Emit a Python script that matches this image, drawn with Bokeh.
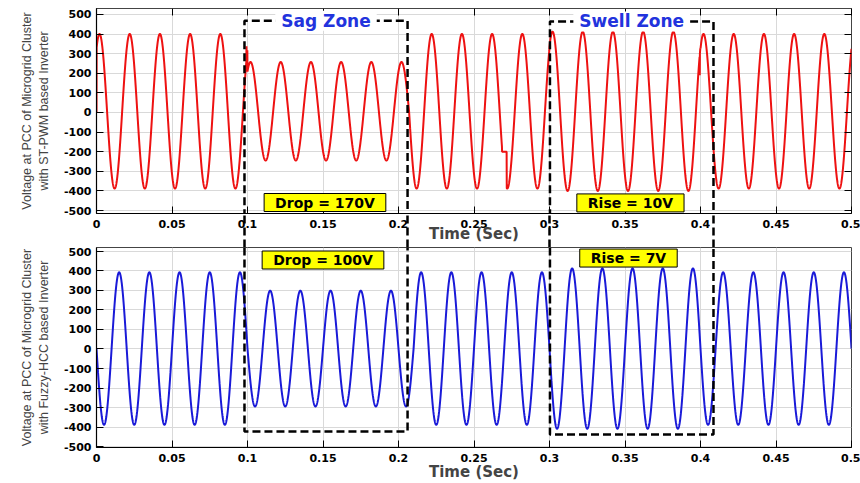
import numpy as np
from bokeh.plotting import figure
from bokeh.layouts import column
from bokeh.models import Range1d, FixedTicker, Label, PolyAnnotation, LinearAxis
from bokeh.embed import file_html
from bokeh.resources import INLINE

# ---------------- data ----------------
FREQ_HZ = 50.0
x_ticks = [0.0, 0.05, 0.1, 0.15, 0.2, 0.25, 0.3, 0.35, 0.4, 0.45, 0.5]
x_tick_labels = ["0", "0.05", "0.1", "0.15", "0.2", "0.25", "0.3", "0.35", "0.4", "0.45", "0.5"]
y_ticks = [-500, -400, -300, -200, -100, 0, 100, 200, 300, 400, 500]
y_tick_labels = ["-500", "-400", "-300", "-200", "-100", "0", "100", "200", "300", "400", "500"]

# top panel: ST-PWM based inverter (segments: normal, sag, normal, swell, normal)
top_seg_edges = [0.0, 0.1, 0.207, 0.3, 0.4, 0.5]
top_seg_amp = [394, 251, 394, 406, 394]
top_offset = 6
top_first_peak = 0.002
top_start_value = 0
top_spike_t = [0.0993, 0.3995]
top_spike_v = [338, 190]
top_hold_start = [0.2686]
top_hold_end = [0.2716]
top_hold_v = [-200]

# bottom panel: Fuzzy-HCC based inverter
bot_seg_edges = [0.0, 0.1, 0.21, 0.3, 0.4, 0.5]
bot_seg_amp = [390, 296, 390, 410, 390]
bot_offset = 2
bot_first_peak = 0.015

# zone boxes (time extents) and annotation texts
sag_t = [0.098, 0.206]
swell_t = [0.3003, 0.4086]
zone_names = ["Sag Zone", "Swell Zone"]
top_notes = ["Drop = 170V", "Rise = 10V"]
bot_notes = ["Drop = 100V", "Rise = 7V"]

# ---------------- build waveforms ----------------
t = np.arange(0.0, 0.5 + 1e-9, 0.0001)


def wave(edges, amps, offset, first_peak):
    a = np.zeros_like(t)
    for i in range(len(amps)):
        m = (t >= edges[i]) & (t <= edges[i + 1])
        a[m] = amps[i]
    return a * np.cos(2 * np.pi * FREQ_HZ * (t - first_peak)) + offset


v_top = wave(top_seg_edges, top_seg_amp, top_offset, top_first_peak)
v_top[0] = top_start_value
for ts, vs in zip(top_spike_t, top_spike_v):
    v_top[np.argmin(np.abs(t - ts))] = vs
for a0, a1, hv in zip(top_hold_start, top_hold_end, top_hold_v):
    v_top[(t >= a0) & (t <= a1)] = hv

v_bot = wave(bot_seg_edges, bot_seg_amp, bot_offset, bot_first_peak)

TICK_FONT = "DejaVu Sans"
LABEL_FONT = "Liberation Sans"
GAP_PX = 34


def make_fig(height, y_range, mb_top, mb_bottom, ylabel, tick_standoff, lab_standoff,
             minor=None):
    p = figure(width=860, height=height, x_range=Range1d(0, 0.5),
               y_range=Range1d(*y_range), output_backend="svg",
               toolbar_location=None, min_border_left=96, min_border_right=9,
               min_border_top=mb_top, min_border_bottom=mb_bottom)
    p.background_fill_color = "white"
    p.border_fill_color = "white"
    p.outline_line_color = "#444444"
    p.outline_line_width = 1
    p.xaxis.ticker = FixedTicker(ticks=x_ticks, minor_ticks=minor or [])
    p.xaxis.major_label_overrides = dict(zip(x_ticks, x_tick_labels))
    p.yaxis.ticker = FixedTicker(ticks=y_ticks)
    p.yaxis.major_label_overrides = dict(zip(y_ticks, y_tick_labels))
    for ax in (p.xaxis[0], p.yaxis[0]):
        ax.major_tick_in = 7
        ax.major_tick_out = 0
        ax.minor_tick_in = 0
        ax.minor_tick_out = 0
        ax.minor_tick_line_color = None
        ax.axis_line_color = "black"
        ax.axis_line_width = 1.2
        ax.major_tick_line_color = "black"
        ax.major_label_text_font = TICK_FONT
        ax.major_label_text_font_style = "bold"
        ax.major_label_text_font_size = "11px"
        ax.major_label_text_color = "black"
    if minor:
        # dashed zone-box edges continuing through the gap below the panel
        xa = p.xaxis[0]
        xa.minor_tick_out = GAP_PX
        xa.minor_tick_line_color = "black"
        xa.minor_tick_line_width = 2.5
        xa.minor_tick_line_dash = "8 4"
        xa.major_label_standoff = tick_standoff - GAP_PX
    else:
        p.xaxis.major_label_standoff = tick_standoff
    p.yaxis.major_label_standoff = 5
    p.xaxis.axis_label = "Time (Sec)"
    p.xaxis.axis_label_text_font = TICK_FONT
    p.xaxis.axis_label_text_font_style = "bold"
    p.xaxis.axis_label_text_font_size = "15px"
    p.xaxis.axis_label_standoff = lab_standoff
    p.yaxis.axis_label = ylabel
    p.yaxis.axis_label_text_font = LABEL_FONT
    p.yaxis.axis_label_text_font_style = "normal"
    p.yaxis.axis_label_text_font_size = "12.5px"
    p.yaxis.axis_label_standoff = 10
    p.grid.grid_line_color = "#d9d9d9"
    p.grid.grid_line_width = 1
    return p


def mirror_ticks(p):
    ra = LinearAxis(ticker=FixedTicker(ticks=y_ticks), major_tick_in=7, major_tick_out=0,
                    minor_tick_line_color=None, axis_line_color=None,
                    major_label_text_font_size="1px", major_label_text_alpha=0,
                    major_label_standoff=0, major_tick_line_color="black")
    ta = LinearAxis(ticker=FixedTicker(ticks=x_ticks), major_tick_in=7, major_tick_out=0,
                    minor_tick_line_color=None, axis_line_color=None,
                    major_label_text_font_size="1px", major_label_text_alpha=0,
                    major_label_standoff=0, major_tick_line_color="black")
    p.add_layout(ra, "right")
    p.add_layout(ta, "above")


TOP_YR = (-515, 530)
top = make_fig(247, TOP_YR, 8, 34,
               "Voltage at PCC of Microgrid Cluster\nwith ST-PWM based Inverter", 6, -6,
               minor=sag_t + swell_t)
mirror_ticks(top)
top.line(t, v_top, line_color="#ee1111", line_width=2)

bot = make_fig(236, (-504, 519), 0, 35,
               "Voltage at PCC of Microgrid Cluster\nwith Fuzzy-HCC based Inverter", 6, -2)
bot.line(t, v_bot, line_color="#1a1ad8", line_width=2)

BOX = dict(line_color="black", line_alpha=1.0, line_width=2.5, line_dash="8 4",
           fill_color=None, fill_alpha=0)

# dashed boxes: upper part in upper panel, lower part in lower panel
for (x0, x1), ytop in zip([sag_t, swell_t], [468, 464]):
    top.add_layout(PolyAnnotation(xs=[x0, x0, x1, x1], ys=[-5000, ytop, ytop, -5000], **BOX))
for (x0, x1), ybot in zip([sag_t, swell_t], [-422, -437]):
    bot.add_layout(PolyAnnotation(xs=[x0, x0, x1, x1], ys=[5000, ybot, ybot, 5000], **BOX))

for name, (x0, x1), yv in zip(zone_names, [sag_t, swell_t], [468, 464]):
    top.add_layout(Label(x=(x0 + x1) / 2, y=yv, text=name, text_align="center",
                         text_baseline="middle", text_font=TICK_FONT,
                         text_font_style="bold", text_font_size="17px",
                         text_color="#2233dd", background_fill_color="white",
                         padding=(6, 0)))

for fig, notes, xs, ys in [(top, top_notes, [0.1513, 0.3536], [-459, -461]),
                           (bot, bot_notes, [0.15, 0.3523], [455, 465])]:
    for note, xv, yv in zip(notes, xs, ys):
        fig.add_layout(Label(x=xv, y=yv, text=note, text_align="center",
                             text_baseline="middle", text_font=TICK_FONT,
                             text_font_style="bold", text_font_size="14px",
                             text_color="black", background_fill_color="#ffff00",
                             border_line_color="black", border_line_width=1,
                             padding=(11, 1)))

layout = column(top, bot, spacing=0)
open("out.html", "w").write(file_html(layout, INLINE))
